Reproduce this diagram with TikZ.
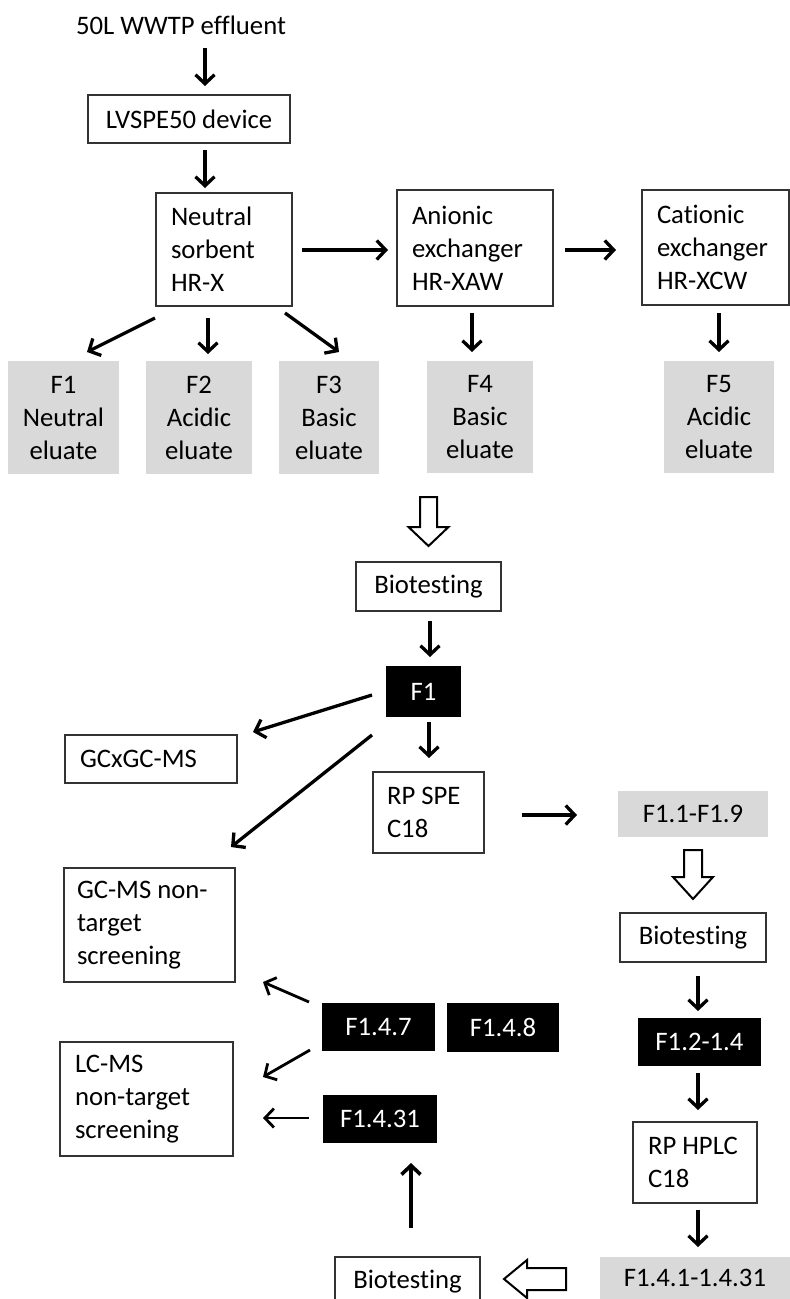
\documentclass[tikz,border=0pt]{standalone}
\usepackage{fontspec}
\setmainfont{Carlito}[Ligatures=NoCommon]
\usetikzlibrary{arrows.meta,calc}

\begin{document}
\begin{tikzpicture}[
    x=1pt, y=-1pt,
    font=\fontsize{26.7}{33}\selectfont,
    >={Straight Barb[length=9pt,width=19pt]},
    box/.style={rectangle, draw=black!80, line width=1.2pt, inner sep=0pt, outer sep=0pt, align=flush center},
    lbox/.style={box, align=flush left},
    eluate/.style={rectangle, fill=black!15, inner sep=0pt, outer sep=0pt, align=flush center},
    frac/.style={rectangle, fill=black, text=white, inner sep=0pt, outer sep=0pt},
    arr/.style={->, line width=3.3pt},
    hollow/.style={draw, fill=white, line width=2pt, line join=miter}
]
\useasboundingbox (0,0) rectangle (790,1299);
\clip (0,0) rectangle (790,1299);

% Extraction
\node[inner sep=0pt, minimum height=30pt] (src) at (181,25) {50L WWTP effluent};
\node[box, minimum width=202pt, minimum height=48pt] (lvspe) at (189,119) {LVSPE50 device};
\node[lbox, text width=106pt, minimum width=136pt, minimum height=113pt] (neutral) at (224,249.5) {Neutral\\sorbent\\HR-X};
\node[lbox, text width=126pt, minimum width=156pt, minimum height=116pt] (anionic) at (475,248) {Anionic\\exchanger\\HR-XAW};
\node[lbox, text width=117pt, minimum width=147pt, minimum height=115pt] (cationic) at (715.5,247.5) {Cationic\\exchanger\\HR-XCW};

% Eluates
\node[eluate, minimum width=111pt, minimum height=113pt] (f1e) at (63.5,417.5) {F1\\Neutral\\eluate};
\node[eluate, minimum width=106pt, minimum height=113pt] (f2e) at (199,417.5) {F2\\Acidic\\eluate};
\node[eluate, minimum width=100pt, minimum height=113pt] (f3e) at (329,417.5) {F3\\Basic\\eluate};
\node[eluate, minimum width=106pt, minimum height=112pt] (f4e) at (480,417) {F4\\Basic\\eluate};
\node[eluate, minimum width=110pt, minimum height=112pt] (f5e) at (719,417) {F5\\Acidic\\eluate};

% First biotest and F1
\node[box, minimum width=145pt, minimum height=49pt] (bio1) at (428.5,586.5) {Biotesting};
\node[frac, minimum width=75pt, minimum height=51pt] (f1) at (423.5,691.5) {F1};
\node[lbox, text width=142pt, minimum width=172pt, minimum height=48pt] (gcxgc) at (151,759) {GCxGC-MS};
\node[lbox, text width=83pt, minimum width=111pt, minimum height=81pt] (rpspe) at (428.5,812.5) {RP SPE\\C18};
\node[eluate, minimum width=150pt, minimum height=46pt] (f19) at (693,814) {F1.1-F1.9};
\node[lbox, text width=145pt, minimum width=171pt, minimum height=114pt] (gcms) at (149.5,925) {GC-MS non-\\target\\screening};
\node[lbox, text width=143pt, minimum width=173pt, minimum height=114pt] (lcms) at (146.5,1099) {LC-MS\\non-target\\screening};

% Second and third biotest
\node[box, minimum width=146pt, minimum height=49pt] (bio2) at (693,937.5) {Biotesting};
\node[frac, minimum width=123pt, minimum height=48pt] (f124) at (699.5,1042) {F1.2-1.4};
\node[lbox, text width=94pt, minimum width=124pt, minimum height=81pt] (rphplc) at (695,1162.5) {RP HPLC\\C18};
\node[eluate, minimum width=190pt, minimum height=42pt] (f141) at (695,1278) {F1.4.1-1.4.31};
\node[box, minimum width=145pt, minimum height=50pt] (bio3) at (407.5,1282) {Biotesting};
\node[frac, minimum width=113pt, minimum height=48pt] (f147) at (378.5,1027) {F1.4.7};
\node[frac, minimum width=112pt, minimum height=49pt] (f148) at (503,1027.5) {F1.4.8};
\node[frac, minimum width=114pt, minimum height=48pt] (f1431) at (380,1119) {F1.4.31};

% Arrows
\draw[arr] ($(src.south)+(24,8)$) -- ($(lvspe.north)+(16,-9)$);
\draw[arr] ($(lvspe.south)+(16,7)$) -- ($(neutral.north)+(-19,-5)$);
\draw[arr] ($(neutral.east)+(10,0.5)$) -- ($(anionic.west)+(-9,2)$);
\draw[arr] ($(anionic.east)+(12,2)$) -- ($(cationic.west)+(-26,2.5)$);
\draw[arr] ($(neutral.south)+(-69,12)$) -- ($(f1e.north)+(23.5,-9)$);
\draw[arr] ($(neutral.south)+(-16,12)$) -- ($(f2e.north)+(9,-7)$);
\draw[arr] ($(neutral.south)+(61,7)$) -- ($(f3e.north)+(10,-9)$);
\draw[arr] ($(anionic.south)+(-3,7)$) -- ($(f4e.north)+(-8,-9)$);
\draw[arr] ($(cationic.south)+(3.5,8)$) -- ($(f5e.north)+(0,-9)$);

\draw[hollow] ($(bio1.north)+(-8.5,-65)$) -- ++(0,30) -- ++(-11.5,0) -- ($(bio1.north)+(0,-16)$)
    -- ($(bio1.north)+(20,-35)$) -- ++(-11.5,0) -- ++(0,-30) -- cycle;

\draw[arr] ($(bio1.south)+(1.5,10)$) -- ($(f1.north)+(6.5,-9)$);
\draw[arr] ($(f1.west)+(-14,3.5)$) -- ($(gcxgc.north east)+(16,-3)$);
\draw[arr] ($(f1.west)+(-14,43.5)$) -- ($(gcms.north east)+(-4,-21)$);
\draw[arr] ($(f1.south)+(5.5,5)$) -- ($(rpspe.north)+(0.5,-14)$);
\draw[arr] ($(rpspe.east)+(38,2.5)$) -- ($(f19.west)+(-41,1)$);

\draw[hollow] ($(bio2.north)+(-9,-63)$) -- ++(0,27) -- ++(-11,0) -- ($(bio2.north)+(0,-14)$)
    -- ($(bio2.north)+(20,-36)$) -- ++(-11,0) -- ++(0,-27) -- cycle;

\draw[arr] ($(bio2.south)+(5,14)$) -- ($(f124.north)+(-1.5,-7)$);
\draw[arr] ($(f124.south)+(-1.5,7)$) -- ($(rphplc.north)+(3,-12)$);
\draw[arr] ($(rphplc.south)+(3,7)$) -- ($(f141.north)+(3,-10)$);

\draw[hollow] ($(bio3.east)+(86,-14)$) -- ++(-39,0) -- ++(0,-8) -- ($(bio3.east)+(24,-3)$)
    -- ($(bio3.east)+(47,16)$) -- ++(0,-8) -- ++(39,0) -- cycle;

\draw[arr, line width=3.6pt] ($(bio3.north)+(3.5,-29)$) -- ($(f1431.south)+(31,20)$);
\draw[arr, line width=2.8pt] ($(f147.west)+(-13,-25)$) -- ($(gcms.south east)+(28,0)$);
\draw[arr, line width=2.8pt] ($(f147.west)+(-12,23)$) -- ($(lcms.north east)+(30,35)$);
\draw[arr, line width=2.8pt] ($(f1431.west)+(-14,-1)$) -- ($(lcms.east)+(30,19)$);

\end{tikzpicture}
\end{document}
